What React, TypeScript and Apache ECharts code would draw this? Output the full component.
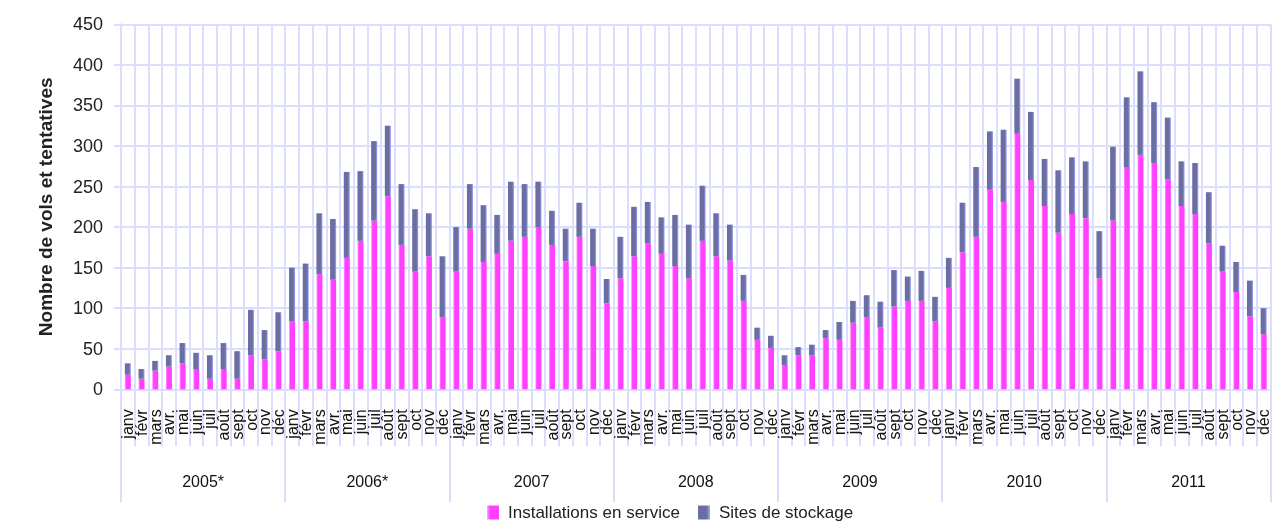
import React, { useEffect, useRef } from 'react';
import * as echarts from 'echarts';

const months = ['janv', 'févr', 'mars', 'avr.', 'mai', 'juin', 'juil', 'août', 'sept', 'oct', 'nov', 'déc'];
const years = ['2005*', '2006*', '2007', '2008', '2009', '2010', '2011'];

// Installations en service (monthly, 2005-2011)
const installations = [
  18, 13, 23, 28, 32, 25, 13, 25, 13, 42, 37, 47,
  84, 84, 142, 135, 162, 183, 208, 238, 178, 145, 164, 89,
  145, 198, 157, 167, 183, 188, 200, 178, 158, 188, 152, 106,
  137, 164, 180, 167, 152, 137, 183, 164, 159, 109, 61, 51,
  30, 42, 42, 63, 61, 82, 89, 76, 102, 109, 109, 84,
  125, 169, 188, 246, 231, 315, 258, 226, 193, 216, 211, 137,
  208, 274, 289, 279, 259, 226, 216, 180, 145, 120, 90, 68,
];

// Sites de stockage (monthly, 2005-2011)
const sites = [
  14, 12, 12, 14, 25, 20, 29, 32, 34, 56, 36, 48,
  66, 71, 75, 75, 106, 86, 98, 87, 75, 77, 53, 75,
  55, 55, 70, 48, 73, 65, 56, 42, 40, 42, 46, 30,
  51, 61, 51, 45, 63, 66, 68, 53, 44, 32, 15, 15,
  12, 10, 13, 10, 22, 27, 27, 32, 45, 30, 37, 30,
  37, 61, 86, 72, 89, 68, 84, 58, 77, 70, 70, 58,
  91, 86, 103, 75, 76, 55, 63, 63, 32, 37, 44, 32,
];

const yMin = 0;
const yMax = 450;
const yStep = 50;

export default function App() {
  const ref = useRef<HTMLDivElement>(null);
  useEffect(() => {
    const chart = echarts.init(ref.current!, null, { renderer: 'svg' });
    const categories = years.flatMap(() => months);
    const gridColor = '#DDDDFF';
    const font = '"Liberation Sans", Arial, sans-serif';
    const pink = new echarts.graphic.LinearGradient(0, 0, 1, 0, [
      { offset: 0, color: '#FFA8FF' },
      { offset: 0.25, color: '#FF40FF' },
      { offset: 1, color: '#FF40FF' },
    ]);
    const blue = new echarts.graphic.LinearGradient(0, 0, 1, 0, [
      { offset: 0, color: '#6A6EA2' },
      { offset: 0.7, color: '#6A6EA2' },
      { offset: 1, color: '#A2A6F2' },
    ]);
    chart.setOption({
      animation: false,
      textStyle: { fontFamily: font },
      grid: { left: 121, right: 13.5, top: 24.3, bottom: 137.7 },
      legend: {
        left: 487,
        top: 504,
        itemWidth: 12,
        itemHeight: 14,
        itemGap: 18,
        icon: 'rect',
        padding: 0,
        textStyle: { fontSize: 17, lineHeight: 17, color: '#222', padding: [0, 0, 0, 4] },
        data: ['Installations en service', 'Sites de stockage'],
      },
      xAxis: [
        {
          type: 'category',
          data: categories,
          position: 'bottom',
          boundaryGap: true,
          axisLine: { show: true, lineStyle: { color: gridColor, width: 2 } },
          axisTick: { show: true, interval: 0, length: 57, lineStyle: { color: gridColor, width: 2 } },
          axisLabel: { interval: 0, rotate: 90, margin: 20, fontSize: 16, color: '#111', hideOverlap: false },
          splitLine: { show: true, interval: 0, lineStyle: { color: gridColor, width: 2 } },
        },
        {
          type: 'category',
          data: years,
          position: 'bottom',
          boundaryGap: true,
          axisLine: { show: false },
          axisTick: { show: true, interval: 0, length: 113, lineStyle: { color: gridColor, width: 2 } },
          axisLabel: { interval: 0, margin: 84, fontSize: 16, color: '#111' },
          splitLine: { show: false },
        },
      ],
      yAxis: {
        type: 'value',
        min: yMin,
        max: yMax,
        interval: yStep,
        name: 'Nombre de vols et tentatives',
        nameLocation: 'middle',
        nameGap: 66,
        nameTextStyle: { fontSize: 19, fontWeight: 'bold', color: '#222' },
        axisLine: { show: true, lineStyle: { color: gridColor, width: 2 } },
        axisTick: { show: true, length: 7, lineStyle: { color: gridColor, width: 2 } },
        axisLabel: { fontSize: 18, color: '#222', margin: 18 },
        splitLine: { show: true, lineStyle: { color: gridColor, width: 2 } },
      },
      series: [
        {
          name: 'Installations en service',
          type: 'bar',
          stack: 'total',
          barWidth: '44%',
          data: installations,
          itemStyle: { color: pink },
        },
        {
          name: 'Sites de stockage',
          type: 'bar',
          stack: 'total',
          barWidth: '44%',
          data: sites,
          itemStyle: { color: blue },
        },
      ],
    });
    return () => chart.dispose();
  }, []);
  return <div ref={ref} style={{ position: 'fixed', left: 0, top: 0, width: 1284, height: 527 }} />;
}
